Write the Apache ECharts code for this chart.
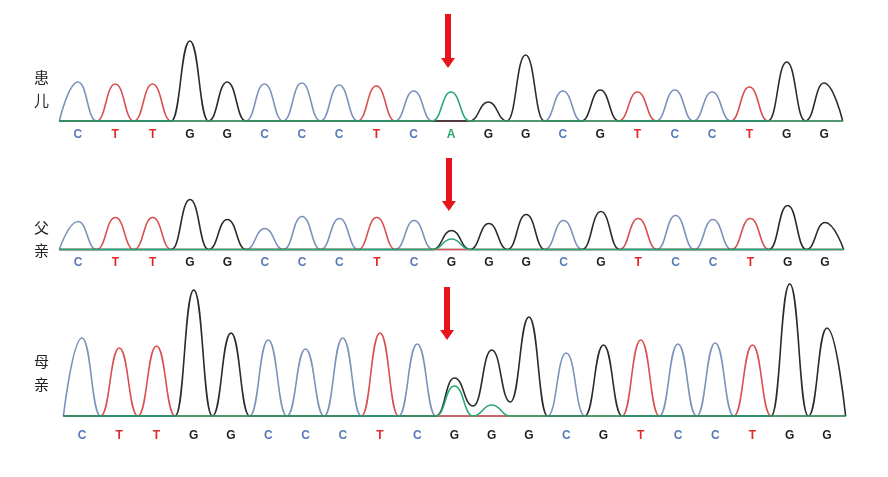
<!DOCTYPE html>
<html><head><meta charset="utf-8">
<script src="https://cdn.jsdelivr.net/npm/echarts@6/dist/echarts.min.js"></script>
<style>html,body{margin:0;padding:0;background:#fff}#c{width:888px;height:477px}</style>
</head><body><div id="c"></div><script>
// Called bases
const patientBases = ['C','T','T','G','G','C','C','C','T','C','A','G','G','C','G','T','C','C','T','G','G'];
const fatherBases  = ['C','T','T','G','G','C','C','C','T','C','G','G','G','C','G','T','C','C','T','G','G'];
const motherBases  = ['C','T','T','G','G','C','C','C','T','C','G','G','G','C','G','T','C','C','T','G','G'];
// Main peak heights (signal units) of the called base at each position
const patientHeights = [39,37,37,80,39,37,38,36,35,30,29,19,66,30,31,29,31,29,34,59,38];
const fatherHeights  = [28,32,32,50,30,21,33,31,32,29,19,26,35,29,38,31,34,30,31,44,27];
const motherHeights  = [78,68,70,126,83,76,67,78,83,72,38,66,99,63,71,76,72,73,71,132,88];
// Secondary (heterozygous) peaks: [position, base, height]
const patientMinor = [];
const fatherMinor  = [[10,'A',10.5]];
const motherMinor  = [[10,'A',30],[11,'A',11]];
// Valleys that stay above baseline: [position, base, height]
const patientValleys = [];
const fatherValleys  = [];
const motherValleys  = [[10.5,'G',10],[11.5,'G',14]];
const sampleNames = ['患\n儿','父\n亲','母\n亲'];
const channels = ['C','T','G','A'];

const traceColor = {C:'#7b93bb', T:'#d95050', G:'#2b2b2b', A:'#2ba872'};
const labelColor = {C:'#5878b8', T:'#e02a2a', G:'#1e1e1e', A:'#22a86a'};

const panels = [
  {bases:patientBases, heights:patientHeights, minor:patientMinor, valleys:patientValleys,
   left:59.3, right:45.3, top:11, yMax:110, margin:2, arrowX:9.92, arrow:[107,58]},
  {bases:fatherBases, heights:fatherHeights, minor:fatherMinor, valleys:fatherValleys,
   left:59.3, right:44.3, top:154.5, yMax:95, margin:1.5, arrowX:9.93, arrow:[91.5,43.5]},
  {bases:motherBases, heights:motherHeights, minor:motherMinor, valleys:motherValleys,
   left:63.4, right:42.4, top:276, yMax:140, margin:8, arrowX:9.8, arrow:[129,81]}
];
const yMin = -6;

function trace(p, ch) {
  const pts = [];
  const n = p.bases.length;
  for (let k = 0; k <= 2 * n; k++) {
    const x = k / 2 - 0.5;
    let y = 0;
    if (k % 2 === 1) {
      const i = (k - 1) / 2;
      if (p.bases[i] === ch) y = p.heights[i];
      p.minor.forEach(m => { if (m[0] === i && m[1] === ch) y = m[2]; });
    } else {
      p.valleys.forEach(v => { if (v[0] === x && v[1] === ch) y = v[2]; });
    }
    pts.push([x, y]);
  }
  return pts;
}

const grid = [], xAxis = [], yAxis = [], series = [], title = [];
const titleTops = [61, 211, 345];
panels.forEach((p, g) => {
  const h = p.yMax - yMin;
  grid.push({left:p.left, right:p.right, top:p.top, height:h});
  xAxis[g] = {type:'value', gridIndex:g, min:-0.5, max:p.bases.length - 0.5, show:false};
  xAxis[g + 3] = {type:'category', gridIndex:g, data:p.bases, boundaryGap:true, position:'bottom',
    axisLine:{show:false}, axisTick:{show:false}, splitLine:{show:false},
    axisLabel:{interval:0, margin:p.margin, formatter:v => '{' + v + '|' + v + '}',
      rich:{
        C:{color:labelColor.C, fontWeight:'bold', fontSize:12, fontFamily:'Liberation Sans'},
        T:{color:labelColor.T, fontWeight:'bold', fontSize:12, fontFamily:'Liberation Sans'},
        G:{color:labelColor.G, fontWeight:'bold', fontSize:12, fontFamily:'Liberation Sans'},
        A:{color:labelColor.A, fontWeight:'bold', fontSize:12, fontFamily:'Liberation Sans'}
      }}};
  yAxis.push({type:'value', gridIndex:g, min:yMin, max:p.yMax, show:false});
  channels.forEach((ch, ci) => {
    const s = {
      type:'line', xAxisIndex:g, yAxisIndex:g, data:trace(p, ch),
      smooth:0.5, smoothMonotone:'x', showSymbol:false, symbol:'none',
      lineStyle:{color:traceColor[ch], width:1.6}, silent:true, z:2 + ci
    };
    if (ci === 0) {
      s.markLine = {
        silent:true, symbol:['none','triangle'], symbolSize:[14,10], animation:false,
        label:{show:false}, lineStyle:{color:'#e8141c', width:6, type:'solid'},
        emphasis:{disabled:true},
        data:[[{coord:[p.arrowX, p.arrow[0]]}, {coord:[p.arrowX, p.arrow[1]]}]]
      };
    }
    series.push(s);
  });
  title.push({text:sampleNames[g], left:29, top:titleTops[g],
    textStyle:{fontSize:15, lineHeight:23, fontWeight:'normal', color:'#222', fontFamily:'Noto Sans CJK SC'}});
});

const chart = echarts.init(document.getElementById('c'), null, {renderer:'canvas'});
chart.setOption({animation:false, backgroundColor:'#fff', title, grid, xAxis, yAxis, series});
</script></body></html>
